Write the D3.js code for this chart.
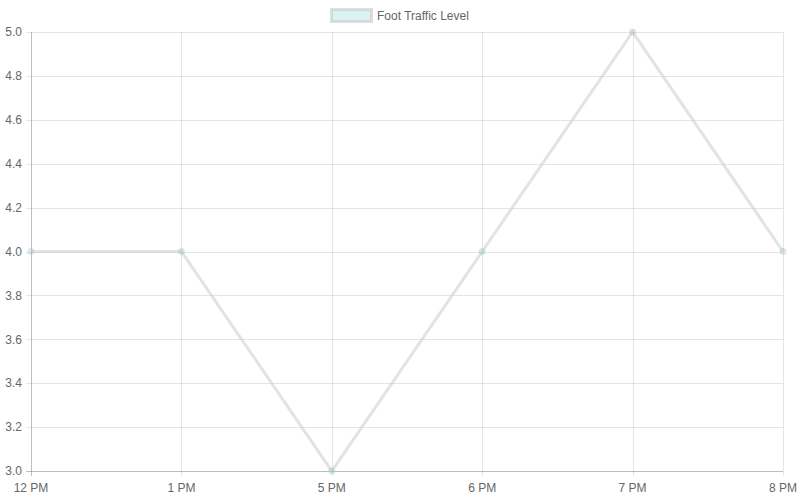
<!DOCTYPE html>
<html><head><meta charset="utf-8">
<script src="https://cdn.jsdelivr.net/npm/d3@7"></script>
<style>html,body{margin:0;padding:0;background:#fff;}svg{display:block;}</style>
</head><body>
<svg id="c" width="800" height="500"></svg>
<script>
const categories = ["12 PM", "1 PM", "5 PM", "6 PM", "7 PM", "8 PM"];
const footTraffic = [4, 4, 3, 4, 5, 4];
const yTicks = [3.0, 3.2, 3.4, 3.6, 3.8, 4.0, 4.2, 4.4, 4.6, 4.8, 5.0];
const seriesName = "Foot Traffic Level";

(function () {
const svg = d3.select("#c");
const pLeft = 31, pRight = 783, pTop = 32, pBottom = 471;
const font = "'Liberation Sans', Arial, Helvetica, sans-serif";

const x = d3.scalePoint().domain(categories).range([pLeft, pRight]);
const y = d3.scaleLinear().domain([3, 5]).range([pBottom, pTop]);

// grid
const g = svg.append("g");
g.selectAll(".hg").data(yTicks).enter().append("line")
  .attr("x1", pLeft - 5).attr("x2", pRight)
  .attr("y1", d => Math.round(y(d)) + 0.5).attr("y2", d => Math.round(y(d)) + 0.5)
  .attr("stroke", (d, i) => i === 0 ? "rgba(0,0,0,0.25)" : "rgba(0,0,0,0.1)").attr("stroke-width", 1);
g.selectAll(".vg").data(categories).enter().append("line")
  .attr("x1", d => Math.round(x(d)) + 0.5).attr("x2", d => Math.round(x(d)) + 0.5)
  .attr("y1", pTop).attr("y2", pBottom + 5)
  .attr("stroke", (d, i) => i === 0 ? "rgba(0,0,0,0.25)" : "rgba(0,0,0,0.1)").attr("stroke-width", 1);

// y labels
svg.selectAll(".yl").data(yTicks).enter().append("text")
  .attr("x", pLeft - 9).attr("y", d => y(d)).attr("dy", "0.35em")
  .attr("text-anchor", "end").attr("font-family", font).attr("font-size", 12).attr("fill", "#666")
  .text(d => d.toFixed(1));
// x labels
svg.selectAll(".xl").data(categories).enter().append("text")
  .attr("x", d => x(d)).attr("y", pBottom + 17).attr("dy", "0.35em")
  .attr("text-anchor", "middle").attr("font-family", font).attr("font-size", 12).attr("fill", "#666")
  .text(d => d);

// line
const line = d3.line().x((d, i) => x(categories[i])).y(d => y(d));
svg.append("path").datum(footTraffic).attr("d", line)
  .attr("fill", "none").attr("stroke", "rgba(200,200,200,0.5)").attr("stroke-width", 3)
  .attr("stroke-linejoin", "miter");

svg.selectAll(".pt").data(footTraffic).enter().append("circle")
  .attr("cx", (d, i) => x(categories[i])).attr("cy", d => y(d)).attr("r", 3)
  .attr("fill", "rgba(75,192,192,0.2)").attr("stroke", "rgba(200,200,200,0.6)").attr("stroke-width", 1);

// legend
const lg = svg.append("g");
lg.append("rect").attr("x", 331.5).attr("y", 9.5).attr("width", 40).attr("height", 12)
  .attr("fill", "rgba(75,192,192,0.2)").attr("stroke", "rgba(200,200,200,0.6)").attr("stroke-width", 3);
lg.append("text").attr("x", 377).attr("y", 16).attr("dy", "0.35em")
  .attr("font-family", font).attr("font-size", 12).attr("fill", "#666").text(seriesName);
})();
</script>
</body></html>
